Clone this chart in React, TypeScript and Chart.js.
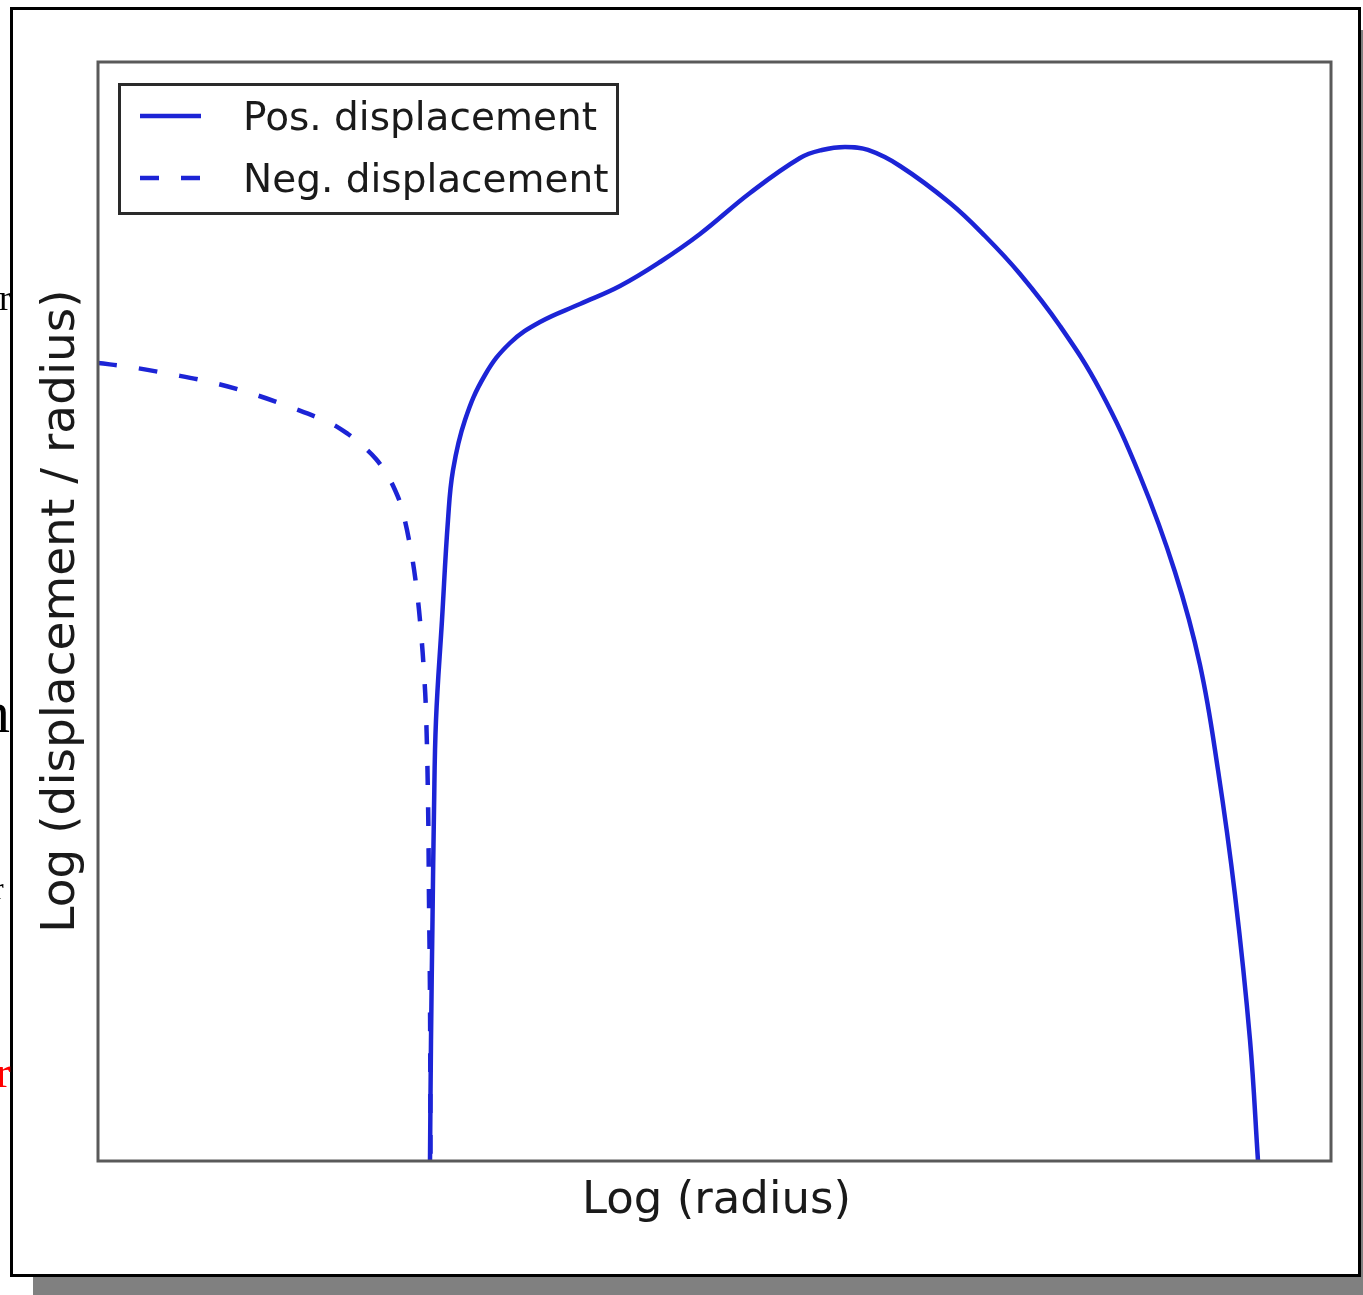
import React, { useEffect, useRef } from "react";
import { Chart, registerables } from "chart.js";

Chart.register(...registerables);

// Positive displacement (solid) curve
const posX = [2.6926, 2.7007, 2.7129, 2.7251, 2.7413, 2.7899, 2.8386, 2.8792, 2.9765, 3.1387, 3.3414, 3.5848, 3.9092, 4.2336, 4.5580, 4.8824, 5.2879, 5.6934, 5.8719, 6.0584, 6.2449, 6.5045, 6.9100, 7.1938, 7.4777, 7.8021, 8.1265, 8.4509, 8.7348, 8.9376, 9.0835, 9.2214, 9.3431, 9.4080];
const posY = [0, 1.1010, 2.1929, 3.1938, 4.0127, 4.9227, 5.8326, 6.2875, 6.7425, 7.1520, 7.4431, 7.6342, 7.7980, 7.9618, 8.1802, 8.4349, 8.8080, 9.1265, 9.1993, 9.2266, 9.1993, 9.0537, 8.7170, 8.4167, 8.0710, 7.5978, 7.0155, 6.2329, 5.3594, 4.5132, 3.5578, 2.4204, 1.1010, 0];

// Negative displacement (dashed) curve
const negX = [0, 0.2595, 0.5839, 0.9084, 1.2328, 1.5572, 1.8816, 2.0276, 2.1573, 2.2547, 2.3358, 2.4088, 2.4655, 2.5385, 2.5872, 2.6196, 2.6440, 2.6602, 2.6764, 2.6845, 2.6926, 2.6967];
const negY = [7.261, 7.225, 7.161, 7.088, 6.988, 6.8608, 6.7152, 6.6151, 6.4968, 6.3876, 6.2602, 6.1056, 5.9327, 5.5505, 5.1774, 4.8135, 4.4404, 4.0855, 3.2848, 2.3749, 1.4650, 0];

const seriesLabels = ["Pos. displacement", "Neg. displacement"];
const xTitle = "Log (radius)";
const yTitle = "Log (displacement / radius)";

const LINE_COLOR = "#1c24d6";
const FONT = "'DejaVu Sans', sans-serif";

const framePlugin = {
  id: "framePlugin",
  beforeDraw(chart: any) {
    const ctx = chart.ctx;
    ctx.save();
    ctx.fillStyle = "#ffffff";
    ctx.fillRect(0, 0, chart.width, chart.height);
    ctx.fillStyle = "#808080";
    ctx.fillRect(33, 30, 1330, 1265);
    ctx.fillStyle = "#ffffff";
    ctx.fillRect(10, 7, 1351, 1270);
    ctx.strokeStyle = "#000000";
    ctx.lineWidth = 3;
    ctx.strokeRect(11.5, 8.5, 1348, 1267);
    // stray clipped text fragments at the left edge
    ctx.fillStyle = "#000000";
    ctx.textAlign = "left";
    ctx.textBaseline = "alphabetic";
    ctx.font = "36px 'Liberation Serif', serif";
    ctx.fillText("r", -1, 310);
    ctx.font = "60px 'Liberation Serif', serif";
    ctx.fillText("n", -20, 732);
    ctx.font = "32px 'Liberation Serif', serif";
    ctx.fillText("r", -7, 899);
    ctx.fillStyle = "#ff0000";
    ctx.font = "44px 'Liberation Serif', serif";
    ctx.fillText("r", -4, 1087);
    ctx.restore();
  },
  afterDatasetsDraw(chart: any) {
    const ctx = chart.ctx;
    const a = chart.chartArea;
    ctx.save();
    ctx.strokeStyle = "#5a5a5a";
    ctx.lineWidth = 3;
    ctx.strokeRect(a.left, a.top, a.right - a.left, a.bottom - a.top);
    ctx.restore();
  },
  afterDraw(chart: any) {
    const ctx = chart.ctx;
    const a = chart.chartArea;
    ctx.save();
    ctx.fillStyle = "#1a1a1a";
    ctx.textAlign = "center";
    ctx.textBaseline = "alphabetic";
    ctx.font = `45px ${FONT}`;
    ctx.fillText(xTitle, (a.left + a.right) / 2 + 2, 1213);
    ctx.save();
    ctx.translate(74, 611);
    ctx.rotate(-Math.PI / 2);
    ctx.font = `47px ${FONT}`;
    ctx.fillText(yTitle, 0, 0);
    ctx.restore();

    // legend
    const bx = 118, by = 83, bw = 501, bh = 132;
    ctx.fillStyle = "#ffffff";
    ctx.fillRect(bx, by, bw, bh);
    ctx.strokeStyle = "#2a2a2a";
    ctx.lineWidth = 3;
    ctx.strokeRect(bx + 1.5, by + 1.5, bw - 3, bh - 3);
    const rows = [116, 178];
    chart.data.datasets.forEach((ds: any, i: number) => {
      const y = rows[i];
      ctx.strokeStyle = ds.borderColor;
      ctx.lineWidth = ds.borderWidth;
      ctx.setLineDash(ds.borderDash || []);
      ctx.beginPath();
      ctx.moveTo(140, y);
      ctx.lineTo(201, y);
      ctx.stroke();
      ctx.setLineDash([]);
      ctx.fillStyle = "#1a1a1a";
      ctx.font = `39px ${FONT}`;
      ctx.textAlign = "left";
      ctx.textBaseline = "alphabetic";
      ctx.fillText(ds.label, 243, y + 14);
    });
    ctx.restore();
  },
};

export default function App() {
  const ref = useRef<HTMLCanvasElement | null>(null);

  useEffect(() => {
    if (!ref.current) return;
    const posData = posX.map((x, i) => ({ x, y: posY[i] }));
    const negData = negX.map((x, i) => ({ x, y: negY[i] }));
    const chart = new Chart(ref.current, {
      type: "line",
      data: {
        datasets: [
          {
            label: seriesLabels[0],
            data: posData,
            borderColor: LINE_COLOR,
            borderWidth: 4.5,
            pointRadius: 0,
            fill: false,
            tension: 0.4,
          },
          {
            label: seriesLabels[1],
            data: negData,
            borderColor: LINE_COLOR,
            borderWidth: 4.5,
            borderDash: [19, 22],
            pointRadius: 0,
            fill: false,
            tension: 0.4,
          },
        ],
      },
      options: {
        animation: false,
        responsive: false,
        maintainAspectRatio: false,
        devicePixelRatio: 1,
        layout: { padding: { left: 98, top: 62, right: 32, bottom: 134 } },
        plugins: {
          legend: { display: false },
          tooltip: { enabled: false },
          title: { display: false },
        },
        scales: {
          x: { type: "linear", min: 0, max: 10, display: false },
          y: { type: "linear", min: 0, max: 10, display: false },
        },
      },
      plugins: [framePlugin],
    } as any);
    return () => chart.destroy();
  }, []);

  return (
    <div style={{ position: "absolute", left: 0, top: 0, width: 1363, height: 1295 }}>
      <canvas ref={ref} width={1363} height={1295} style={{ display: "block", width: 1363, height: 1295 }} />
    </div>
  );
}
